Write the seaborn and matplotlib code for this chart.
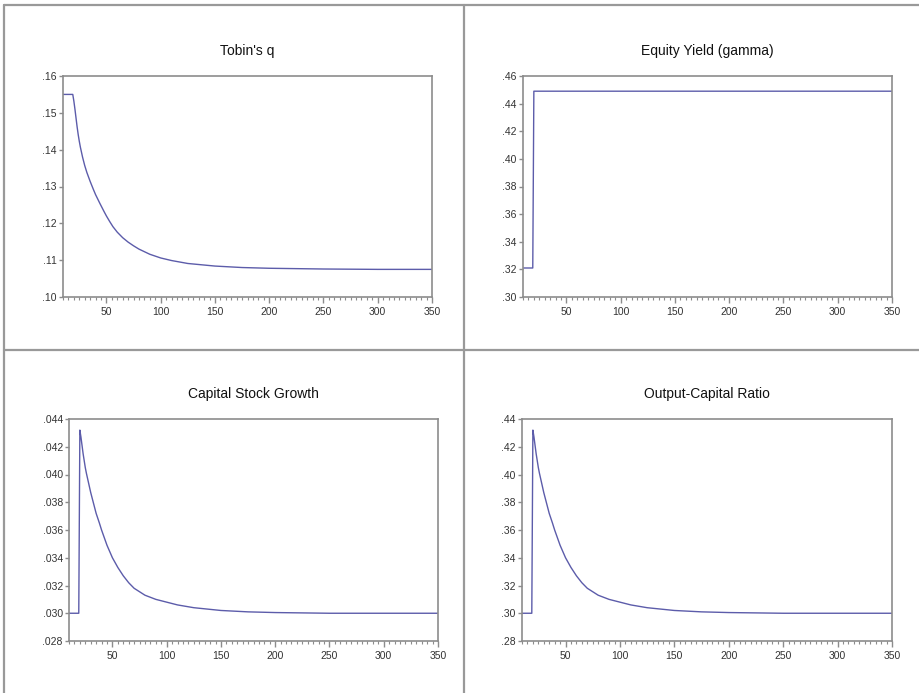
import numpy as np
import pandas as pd
import matplotlib
matplotlib.use("Agg")
import matplotlib.pyplot as plt
from matplotlib.lines import Line2D
from matplotlib.ticker import MultipleLocator, FuncFormatter
import seaborn as sns

# --- data (simulation periods 10..350) ---
tobin_t = [10, 19, 20, 21, 22, 23, 24, 25, 26, 28, 30, 32, 35, 38, 40, 44,
           48, 50, 53, 56, 60, 65, 70, 75, 80, 85, 90, 100, 110, 125, 150,
           175, 200, 250, 300, 350]
tobin_q = [0.1550, 0.1550, 0.1532, 0.1510, 0.1486, 0.1462, 0.1441, 0.1423,
           0.1407, 0.1380, 0.1357, 0.1338, 0.1314, 0.1292, 0.1278, 0.1254,
           0.1231, 0.1220, 0.1205, 0.1191, 0.1176, 0.1161, 0.1149, 0.1139,
           0.1130, 0.1123, 0.1116, 0.1106, 0.1099, 0.1091, 0.1084, 0.1080,
           0.1078, 0.1076, 0.1075, 0.1075]

gamma_t = [10, 19, 20, 350]
gamma = [0.321, 0.321, 0.449, 0.449]

growth_t = [10, 19, 20, 21, 22, 23, 24, 25, 26, 28, 30, 32, 35, 38, 40, 45,
            50, 55, 60, 65, 70, 80, 90, 100, 110, 125, 150, 175, 200, 250, 350]
growth = [0.0300, 0.0300, 0.0432, 0.0427, 0.0421, 0.0415, 0.0410, 0.0405,
          0.0401, 0.0394, 0.0387, 0.0381, 0.0372, 0.0365, 0.0360, 0.0349,
          0.0340, 0.0333, 0.0327, 0.0322, 0.0318, 0.0313, 0.0310, 0.0308,
          0.0306, 0.0304, 0.0302, 0.0301, 0.03005, 0.0300, 0.0300]

ratio_t = growth_t
ratio = [0.300, 0.300, 0.432, 0.427, 0.421, 0.415, 0.410, 0.405,
         0.401, 0.394, 0.387, 0.381, 0.372, 0.365, 0.360, 0.349,
         0.340, 0.333, 0.327, 0.322, 0.318, 0.313, 0.310, 0.308,
         0.306, 0.304, 0.302, 0.301, 0.3005, 0.300, 0.300]

titles = ["Tobin's q", "Equity Yield (gamma)", "Capital Stock Growth", "Output-Capital Ratio"]

sns.set_theme(style="white")
plt.rcParams['font.family'] = ['Liberation Sans', 'DejaVu Sans']

LINE = '#5c5caa'
FRAME = '#8c8c8c'

fig = plt.figure(figsize=(9.19, 6.93), dpi=100)
W, H = 919.0, 693.0


def box(l, t, r, b):
    return [l / W, 1 - b / H, (r - l) / W, (b - t) / H]


panels = [
    (box(63, 76, 432, 297), tobin_t, tobin_q, (0.10, 0.16), 0.01, 2),
    (box(523, 76, 892, 297), gamma_t, gamma, (0.30, 0.46), 0.02, 2),
    (box(69, 419, 438, 641), growth_t, growth, (0.028, 0.044), 0.002, 3),
    (box(522, 419, 892, 641), ratio_t, ratio, (0.28, 0.44), 0.02, 2),
]

for (rect, t, y, ylim, ystep, dec), title in zip(panels, titles):
    ax = fig.add_axes(rect)
    df = pd.DataFrame({'t': t, 'v': y})
    sns.lineplot(data=df, x='t', y='v', ax=ax, color=LINE, linewidth=1.0,
                 estimator=None, sort=False)
    ax.set_xlim(10, 350)
    ax.set_ylim(*ylim)
    ax.xaxis.set_major_locator(MultipleLocator(50))
    ax.xaxis.set_minor_locator(MultipleLocator(5))
    ax.yaxis.set_major_locator(MultipleLocator(ystep))
    ax.yaxis.set_major_formatter(
        FuncFormatter(lambda v, p, d=dec: f"{v:.{d}f}".lstrip('0')))
    ax.set_xlabel('')
    ax.set_ylabel('')
    ax.set_title(title, fontsize=10, pad=15, color='#111111')
    for s in ax.spines.values():
        s.set_color(FRAME)
        s.set_linewidth(1.2)
    ax.tick_params(axis='both', which='both', direction='out', colors=FRAME,
                   labelcolor='#333333', labelsize=7.5)
    ax.tick_params(axis='x', which='major', length=4, width=1.0, pad=3.5,
                   bottom=True)
    ax.tick_params(axis='x', which='minor', length=2, width=0.8, bottom=True)
    ax.tick_params(axis='y', which='major', length=3, width=1.0, pad=1.5,
                   left=True)

# page frame lines
frame_kw = dict(color='#999999', linewidth=1.6, transform=fig.transFigure)
fig.add_artist(Line2D([4 / W, 1], [1 - 5 / H, 1 - 5 / H], **frame_kw))
fig.add_artist(Line2D([4 / W, 4 / W], [0, 1 - 5 / H], **frame_kw))
fig.add_artist(Line2D([464 / W, 464 / W], [0, 1 - 5 / H], **frame_kw))
fig.add_artist(Line2D([4 / W, 1], [1 - 350 / H, 1 - 350 / H], **frame_kw))

fig.savefig('out.png', dpi=100)
